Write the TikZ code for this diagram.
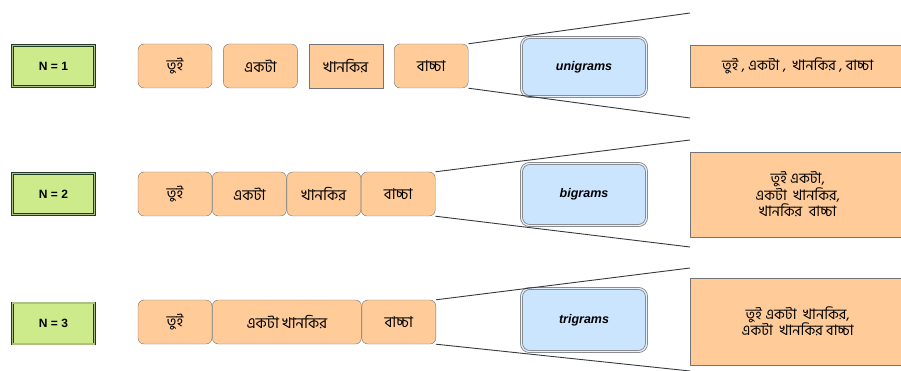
\documentclass[tikz,border=0pt]{standalone}
\usepackage{fontspec}
\setmainfont{Liberation Sans}
\newfontfamily\bnfont[Script=Bengali]{Hind Siliguri}
\usetikzlibrary{positioning}

\definecolor{ngreen}{HTML}{CDEB8B}
\definecolor{npeach}{HTML}{FFCC99}
\definecolor{nblue}{HTML}{CCE5FF}
\definecolor{nline}{HTML}{36393D}

\begin{document}
\begin{tikzpicture}[
  x=1pt, y=-1pt,
  node distance=0pt and 11pt,
  nbox/.style={draw=nline!85!green!70!black, line width=0.8pt, double=ngreen!60!gray, double distance=1.2pt, fill=ngreen, minimum width=82pt, minimum height=41pt, font=\bfseries\fontsize{12}{14}\selectfont},
  word/.style={draw=nline!70, fill=npeach, rounded corners=6pt, minimum width=74pt, minimum height=44pt, inner sep=0pt, font=\bnfont\fontsize{15}{17}\selectfont},
  gram/.style={draw=nline!65, line width=0.8pt, double=nblue!50!white, double distance=1.2pt, fill=nblue, rounded corners=8pt, minimum width=125pt, minimum height=59pt, font=\bfseries\itshape\fontsize{12.5}{15}\selectfont},
  result/.style={draw=nline!70, fill=npeach, minimum width=215pt, anchor=west, align=center, font=\bnfont\fontsize{14.5}{16.5}\selectfont, inner sep=2pt},
  fan/.style={draw=nline, line width=0.9pt}
]

\clip (0,0) rectangle (901,371);

% Row 1: N = 1
\node[nbox] (N1) at (53.5,66) {N = 1};
\node[word] (A1) at (175,66) {তুই};
\node[word, right=of A1] (B1) {একটা};
\node[word, right=of B1, sharp corners] (C1) {খানকির};
\node[word, right=of C1] (D1) {বাচ্চা};
\node[gram] (G1) at (584,67) {unigrams};
\node[result, minimum height=42pt] (R1) at (690,66) {তুই , একটা ,~ খানকির , বাচ্চা};
\coordinate (T1) at (690,13);
\coordinate (U1) at (690,118);

\draw[fan] (D1.north east) -- (T1);
\draw[fan] (D1.south east) -- (U1);

% Row 2: N = 2
\node[nbox] (N2) at (53.5,194) {N = 2};
\node[word] (A2) at (175,194) {তুই};
\node[word, right=0pt of A2] (B2) {একটা};
\node[word, right=0pt of B2] (C2) {খানকির};
\node[word, right=0pt of C2] (D2) {বাচ্চা};
\node[gram, minimum height=62pt] (G2) at (584,194.5) {bigrams};
\node[result, minimum height=85pt] (R2) at (690,194.5) {তুই একটা,\\ একটা~ খানকির,\\ খানকির~ বাচ্চা};
\coordinate (T2) at (690,140);
\coordinate (U2) at (690,247);

\draw[fan] (D2.north east) -- (T2);
\draw[fan] (D2.south east) -- (U2);

% Row 3: N = 3
\node[nbox] (N3) at (53.5,323.5) {N = 3};
\node[word] (A3) at (175,322) {তুই};
\node[word, right=0pt of A3, minimum width=149pt] (B3) {একটা খানকির};
\node[word, right=0pt of B3] (D3) {বাচ্চা};
\node[gram, minimum height=63pt] (G3) at (584,320) {trigrams};
\node[result, minimum height=87pt] (R3) at (690,321.5) {তুই একটা~ খানকির,\\ একটা~ খানকির বাচ্চা};
\coordinate (T3) at (690,268);
\coordinate (U3) at (690,371);

\draw[fan] (D3.north east) -- (T3);
\draw[fan] (D3.south east) -- (U3);

\end{tikzpicture}
\end{document}
